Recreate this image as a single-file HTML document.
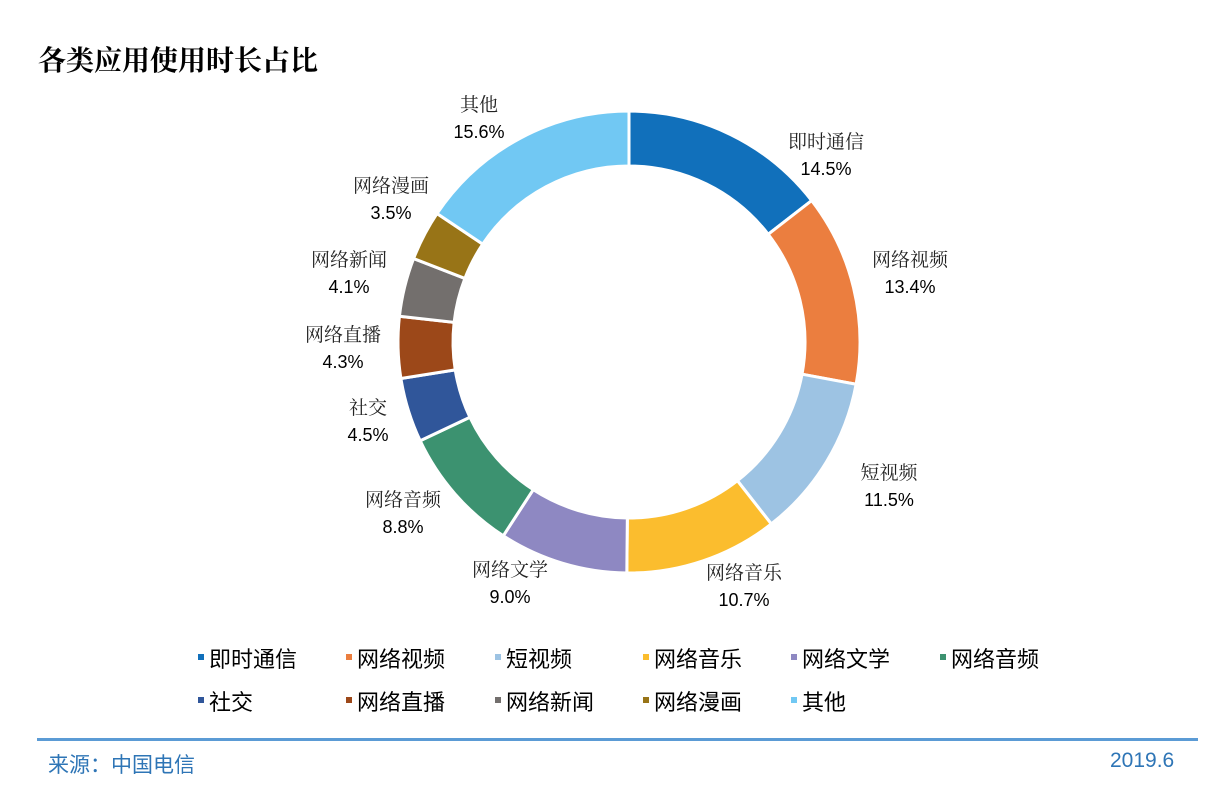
<!DOCTYPE html>
<html><head><meta charset="utf-8"><style>
body{margin:0;background:#fff;}
#wrap{position:relative;width:1230px;height:808px;overflow:hidden;background:#fff;}
.title{position:absolute;left:38px;top:39px;font:bold 28px "Liberation Serif","Noto Serif CJK SC",serif;color:#000;white-space:nowrap;}
.leg{position:absolute;font:22px "Liberation Sans","Noto Sans CJK SC",sans-serif;color:#000;white-space:nowrap;}
.leg i{position:absolute;left:-11px;top:12px;width:6px;height:6px;}
.src{position:absolute;font:21px "Liberation Sans","Noto Sans CJK SC",sans-serif;color:#2e75b6;white-space:nowrap;}
</style></head><body>
<div id="wrap">
<div class="title">各类应用使用时长占比</div>
<svg id="chart" width="1230" height="808" style="position:absolute;left:0;top:0"></svg>
<div id="legend"></div>
<div style="position:absolute;left:37px;top:738px;width:1161px;height:3px;background:#5b9bd5;"></div>
<div class="src" style="left:48px;top:749px;">来源：中国电信</div>
<div class="src" style="left:1110px;top:749px;">2019.6</div>
</div>
<script>
const categories=["即时通信","网络视频","短视频","网络音乐","网络文学","网络音频","社交","网络直播","网络新闻","网络漫画","其他"];
const values=[14.5,13.4,11.5,10.7,9.0,8.8,4.5,4.3,4.1,3.5,15.6];
const valueLabels=["14.5%","13.4%","11.5%","10.7%","9.0%","8.8%","4.5%","4.3%","4.1%","3.5%","15.6%"];
const colors=["#1170bb","#eb7e3f","#9dc3e3","#fbbd2e","#8e88c2","#3c9270","#30569a","#9c4819","#736f6d","#987417","#71c8f3"];
const labelPos=[[826,141],[910,259],[889,472],[744,572],[510,569],[403,499],[368,407],[343,334],[349,259],[391,185],[479,104]];
const legendPos=[[209,642],[357,642],[506,642],[654,642],[802,642],[951,642],[209,685],[357,685],[506,685],[654,685],[802,685]];
const NS="http://www.w3.org/2000/svg";
const svg=document.getElementById('chart');
const cx=629,cy=342,R=231,r=176;
const total=values.reduce((a,b)=>a+b,0);
function pt(rad,ang){return [cx+rad*Math.sin(ang),cy-rad*Math.cos(ang)];}
let acc=0;
values.forEach((v,i)=>{
  const a0=acc/total*2*Math.PI; acc+=v; const a1=acc/total*2*Math.PI;
  const large=(a1-a0)>Math.PI?1:0;
  const p1=pt(R,a0),p2=pt(R,a1),p3=pt(r,a1),p4=pt(r,a0);
  const p=document.createElementNS(NS,'path');
  p.setAttribute('d',`M${p1} A${R},${R} 0 ${large} 1 ${p2} L${p3} A${r},${r} 0 ${large} 0 ${p4}Z`);
  p.setAttribute('fill',colors[i]);p.setAttribute('stroke','#fff');p.setAttribute('stroke-width','3');
  
  
  svg.appendChild(p);
  const [lx,ly]=labelPos[i];
  const t=document.createElementNS(NS,'text');
  t.setAttribute('x',lx);t.setAttribute('y',ly+7);t.setAttribute('text-anchor','middle');
  t.setAttribute('font-family','"Liberation Serif","Noto Serif CJK SC",serif');t.setAttribute('font-size','19');t.setAttribute('fill','#222');
  t.textContent=categories[i];
  
  
  svg.appendChild(t);
  const t2=document.createElementNS(NS,'text');
  t2.setAttribute('x',lx);t2.setAttribute('y',ly+34);t2.setAttribute('text-anchor','middle');
  t2.setAttribute('font-family','"Liberation Sans",sans-serif');t2.setAttribute('font-size','18');t2.setAttribute('fill','#000');
  t2.textContent=valueLabels[i];
  
  
  svg.appendChild(t2);
});
const leg=document.getElementById('legend');
categories.forEach((c,i)=>{
  const d=document.createElement('div');d.className='leg';
  d.style.left=legendPos[i][0]+'px';d.style.top=legendPos[i][1]+'px';
  d.innerHTML='<i style="background:'+colors[i]+'"></i>'+c;
  
  
  leg.appendChild(d);
});
</script>
</body></html>
